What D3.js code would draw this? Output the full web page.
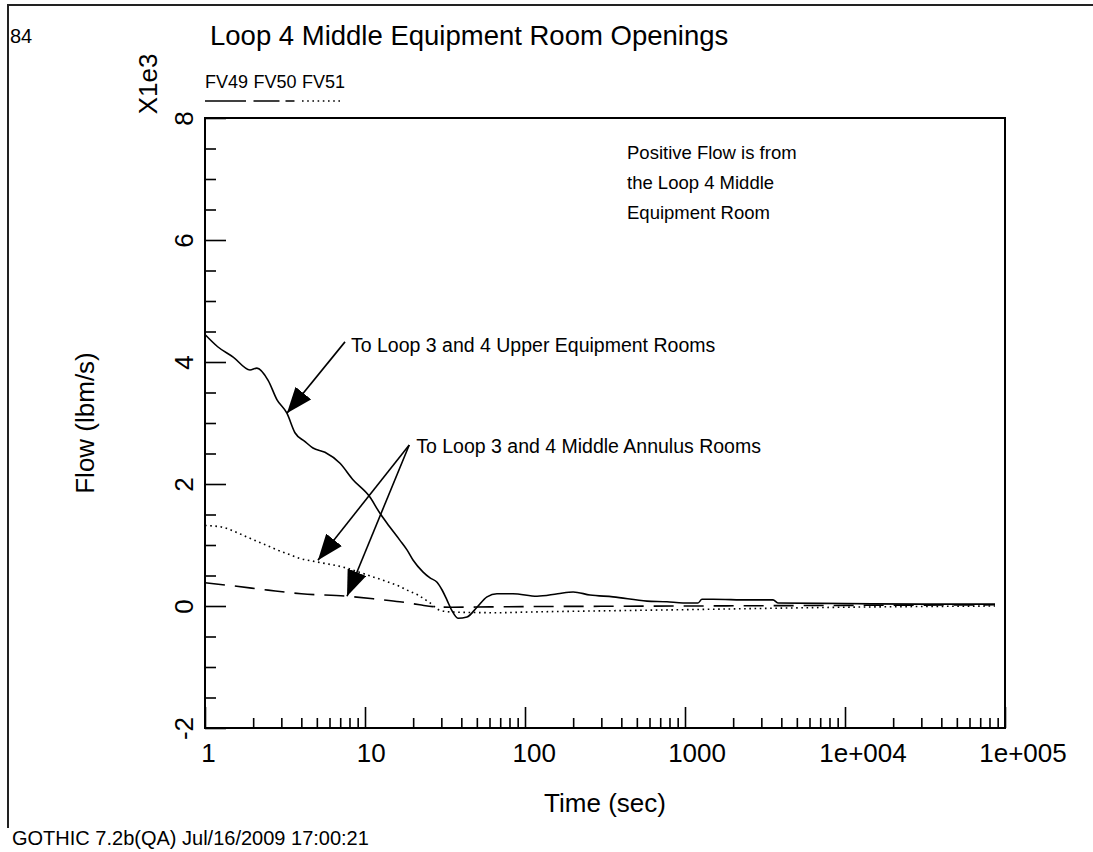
<!DOCTYPE html>
<html>
<head>
<meta charset="utf-8">
<script src="https://cdn.jsdelivr.net/npm/d3@7"></script>
<style>
  body { margin: 0; background: #fff; }
  svg text { font-family: "Liberation Sans", Arial, sans-serif; fill: #000; }
</style>
</head>
<body>
<div id="root"></div>
<script>
// chart values
const timeFV49 = [1, 1.2, 1.5, 1.91, 2.11, 2.48, 2.82, 3.25, 3.65, 4.2, 4.73, 5.62, 6.98, 8.41, 10.7, 12.4, 13.7, 16.5, 18.3, 20, 23, 25.5, 28.2, 30.5, 32.5, 35, 38.1, 43.4, 50.1, 57.9, 66.8, 84, 119, 160, 200, 255, 355, 579, 772, 972, 1206, 1277, 1496, 2500, 3548, 3811, 10000, 30000, 86600];
const flowFV49 = [4450, 4250, 4080, 3870, 3900, 3700, 3380, 3160, 2840, 2700, 2590, 2520, 2340, 2070, 1790, 1520, 1360, 1080, 920, 750, 560, 460, 390, 250, 100, -80, -200, -180, -20, 150, 200, 200, 160, 200, 230, 180, 150, 80, 70, 50, 50, 110, 110, 100, 100, 50, 40, 30, 30];

const timeFV50 = [1, 1.5, 2.48, 4, 7.72, 12, 16.5, 22, 26.6, 35, 60, 100, 300, 1000, 3000, 10000, 86600];
const flowFV50 = [380, 330, 260, 200, 160, 110, 70, 20, -10, -20, -15, -10, -5, 0, 5, 10, 20];

const timeFV51 = [1, 1.3, 1.5, 1.91, 2.55, 2.82, 3.4, 3.92, 5.08, 7.72, 10.3, 13.7, 16.5, 18.3, 21.4, 25.5, 29.4, 35.5, 70, 100, 300, 1000, 10000, 86600];
const flowFV51 = [1320, 1290, 1230, 1110, 970, 920, 840, 780, 720, 620, 510, 400, 320, 260, 180, 50, -70, -100, -110, -100, -80, -60, -20, 0];

const seriesNames = ['FV49', 'FV50', 'FV51'];
const xTickValues = [1, 10, 100, 1000, 10000, 100000];
const xTickLabels = ['1', '10', '100', '1000', '1e+004', '1e+005'];
const yTickValues = [-2000, 0, 2000, 4000, 6000, 8000];
const yTickLabels = ['-2', '0', '2', '4', '6', '8'];

// annotation arrows: [time, flow] of start and tip
const arrowUpper = {from: [7.5, 4330], to: [3.25, 3160]};
const arrowAnnulusA = {from: [18.9, 2640], to: [5.08, 750]};
const arrowAnnulusB = {from: [18.9, 2640], to: [7.72, 160]};

// Define width, height and margin
let width = 1093, height = 852;
let margin = {top: 118, right: 88, bottom: 124, left: 205};

var svg = d3.select('#root')
  .append('svg')
  .attr('width', width)
  .attr('height', height);

svg.append('rect').attr('width', width).attr('height', height).attr('fill', '#fff');

// page frame (top and left edges show)
svg.append('path')
  .attr('d', 'M8,828V5H1093')
  .attr('fill', 'none')
  .attr('stroke', '#222')
  .attr('stroke-width', 2);

// scales
var xScale = d3.scaleLog()
  .domain([1, 100000])
  .range([margin.left, width - margin.right]);
var yScale = d3.scaleLinear()
  .domain([-2000, 8000])
  .range([height - margin.bottom, margin.top]);

// plot box
svg.append('rect')
  .attr('x', xScale(1))
  .attr('y', yScale(8000))
  .attr('width', xScale(100000) - xScale(1))
  .attr('height', yScale(-2000) - yScale(8000))
  .attr('fill', 'none')
  .attr('stroke', '#000')
  .attr('stroke-width', 2);

// x minor ticks
var xMinor = [];
for (let k = 0; k < 5; k++) for (let m = 2; m <= 9; m++) xMinor.push(m * Math.pow(10, k));

svg.append('g')
  .attr('transform', 'translate(' + [0, yScale(-2000)] + ')')
  .call(d3.axisBottom(xScale).tickValues(xMinor).tickSize(-10).tickFormat(''))
  .call(g => g.select('.domain').remove())
  .selectAll('line').attr('stroke-width', 1.6);

// x major ticks + labels
var xAxis = svg.append('g')
  .attr('transform', 'translate(' + [0, yScale(-2000)] + ')')
  .call(d3.axisBottom(xScale)
    .tickValues(xTickValues)
    .tickSize(-21)
    .tickFormat((d, i) => xTickLabels[i]));
xAxis.select('.domain').remove();
xAxis.selectAll('line').attr('stroke-width', 1.6);
xAxis.selectAll('text')
  .attr('y', 34)
  .attr('dy', 0)
  .style('font-size', '26px')
  .attr('dx', function() { return 0.2 * this.getComputedTextLength(); });

// y minor ticks
var yMinor = d3.range(-2000, 8001, 500).filter(d => d % 2000 !== 0);
svg.append('g')
  .attr('transform', 'translate(' + [xScale(1), 0] + ')')
  .call(d3.axisLeft(yScale).tickValues(yMinor).tickSize(-11).tickFormat(''))
  .call(g => g.select('.domain').remove())
  .selectAll('line').attr('stroke-width', 1.6);

// y major ticks + rotated labels
var yAxis = svg.append('g')
  .attr('transform', 'translate(' + [xScale(1), 0] + ')')
  .call(d3.axisLeft(yScale)
    .tickValues(yTickValues)
    .tickSize(-21)
    .tickFormat((d, i) => yTickLabels[i]));
yAxis.select('.domain').remove();
yAxis.selectAll('line').attr('stroke-width', 1.6);
yAxis.selectAll('text')
  .attr('x', 0)
  .attr('dy', 0)
  .attr('transform', 'translate(-12,0) rotate(-90)')
  .attr('text-anchor', 'middle')
  .style('font-size', '26px');

// axis titles
svg.append('text')
  .attr('transform', 'translate(157,84) rotate(-90)')
  .attr('text-anchor', 'middle')
  .style('font-size', '26px')
  .text('X1e3');

svg.append('text')
  .attr('transform', 'translate(94,' + yScale(3000) + ') rotate(-90)')
  .attr('text-anchor', 'middle')
  .style('font-size', '26px')
  .text('Flow (lbm/s)');

svg.append('text')
  .attr('x', (xScale(1) + xScale(100000)) / 2)
  .attr('y', 812)
  .attr('text-anchor', 'middle')
  .style('font-size', '26px')
  .text('Time (sec)');

// title, page number, footer
svg.append('text').attr('x', 210).attr('y', 45).style('font-size', '27.5px')
  .text('Loop 4 Middle Equipment Room Openings');
svg.append('text').attr('x', 10).attr('y', 43).style('font-size', '20px').text('84');
svg.append('text').attr('x', 12).attr('y', 845).style('font-size', '20px')
  .text('GOTHIC 7.2b(QA) Jul/16/2009 17:00:21');

// series
var dashes = ['none', '20,10', '1.6,3.6'];
var series = [
  d3.zip(timeFV49, flowFV49),
  d3.zip(timeFV50, flowFV50),
  d3.zip(timeFV51, flowFV51)
];
var line = d3.line()
  .x(d => xScale(d[0]))
  .y(d => yScale(d[1]))
  .curve(d3.curveMonotoneX);

svg.append('g').selectAll('path')
  .data(series)
  .enter()
  .append('path')
  .attr('d', line)
  .attr('fill', 'none')
  .attr('stroke', '#000')
  .attr('stroke-width', 1.6)
  .attr('stroke-dasharray', (d, i) => dashes[i]);

// legend
var legend = svg.append('g').selectAll('g')
  .data(seriesNames)
  .enter()
  .append('g')
  .attr('transform', (d, i) => 'translate(' + [205 + i * 48.5, 0] + ')');
legend.append('text')
  .attr('y', 88)
  .style('font-size', '18px')
  .text(d => d);
legend.append('line')
  .attr('x1', 0).attr('x2', 41)
  .attr('y1', 101).attr('y2', 101)
  .attr('stroke', '#000')
  .attr('stroke-width', 1.6)
  .attr('stroke-dasharray', (d, i) => i === 1 ? '26,6,10,10' : dashes[i]);

// arrows
svg.append('defs').append('marker')
  .attr('id', 'head')
  .attr('markerUnits', 'userSpaceOnUse')
  .attr('viewBox', '0 0 26 20')
  .attr('refX', 26).attr('refY', 10)
  .attr('markerWidth', 26).attr('markerHeight', 20)
  .attr('orient', 'auto')
  .append('path')
  .attr('d', 'M0,0L26,10L0,20Z')
  .attr('fill', '#000');

svg.append('g').selectAll('line')
  .data([arrowUpper, arrowAnnulusA, arrowAnnulusB])
  .enter()
  .append('line')
  .attr('x1', d => xScale(d.from[0]))
  .attr('y1', d => yScale(d.from[1]))
  .attr('x2', d => xScale(d.to[0]))
  .attr('y2', d => yScale(d.to[1]))
  .attr('stroke', '#000')
  .attr('stroke-width', 1.6)
  .attr('marker-end', 'url(#head)');

svg.append('text')
  .attr('x', xScale(arrowUpper.from[0]) + 6)
  .attr('y', yScale(arrowUpper.from[1]) + 10)
  .style('font-size', '19.5px')
  .text('To Loop 3 and 4 Upper Equipment Rooms');
svg.append('text')
  .attr('x', xScale(arrowAnnulusA.from[0]) + 7)
  .attr('y', yScale(arrowAnnulusA.from[1]) + 8)
  .style('font-size', '19.5px')
  .text('To Loop 3 and 4 Middle Annulus Rooms');

// note box text
var note = ['Positive Flow is from', 'the Loop 4 Middle', 'Equipment Room'];
svg.append('g').selectAll('text')
  .data(note)
  .enter()
  .append('text')
  .attr('x', 627)
  .attr('y', (d, i) => 159 + i * 30)
  .style('font-size', '18.5px')
  .text(d => d);
</script>
</body>
</html>
